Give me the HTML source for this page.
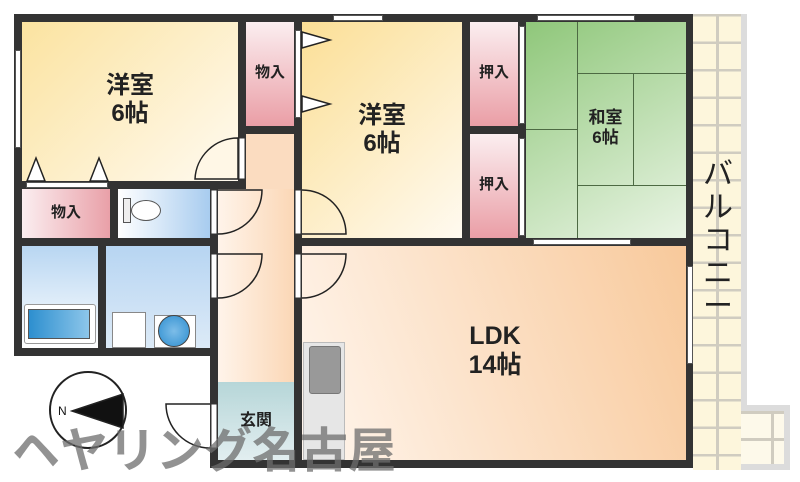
<!DOCTYPE html>
<html><head><meta charset="utf-8"><style>
body{margin:0;width:800px;height:478px;background:#fff;position:relative;overflow:hidden;font-family:"Liberation Sans","Noto Sans CJK JP",sans-serif;}
div{position:absolute;box-sizing:border-box;}
.w{background:#333;}
.t{color:#222;font-weight:bold;text-align:center;line-height:1.15;}
.pink{background:linear-gradient(180deg,#fbeef0,#ea9ea6);}
.win{background:#fff;border:1px solid #555;}
</style></head><body>
<div style="left:693px;top:14px;width:54px;height:456px;background-color:#fdf6dc;background-image:linear-gradient(90deg,transparent 23px,#d0ccc0 23px,#d0ccc0 26px,transparent 26px),linear-gradient(0deg,transparent 25px,#d0ccc0 25px,#d0ccc0 27.5px);background-size:54px 27.5px;border-right:6px solid #dcdcdc"></div>
<div style="left:741px;top:405px;width:49px;height:65px;background:#fdf9ea;border:6px solid #dcdcdc;border-left:none"></div>
<div style="left:741px;top:411px;width:43px;height:53px;background-image:linear-gradient(90deg,transparent 30px,#d0ccc0 30px,#d0ccc0 33px,transparent 33px),linear-gradient(0deg,transparent 24px,#d0ccc0 24px,#d0ccc0 27px,transparent 27px);background-size:43px 27px"></div>
<div class="t" style="left:698px;top:158px;width:40px;font-size:30px;line-height:33px;font-weight:normal">バ<br>ル<br>コ<br>ニ<br>ー</div>
<div style="left:22px;top:22px;width:216px;height:159px;background:linear-gradient(135deg,#fbe3a0,#fffaf0)"></div>
<div class="t" style="left:22px;top:72px;width:216px;font-size:24px">洋室<br>6帖</div>
<div class="pink" style="left:246px;top:22px;width:48px;height:104px"></div>
<div class="t" style="left:246px;top:64px;width:48px;font-size:15px">物入</div>
<div style="left:302px;top:22px;width:160px;height:216px;background:linear-gradient(135deg,#fbdf96,#fffaf0)"></div>
<div class="t" style="left:302px;top:102px;width:160px;font-size:24px">洋室<br>6帖</div>
<div class="pink" style="left:470px;top:22px;width:48px;height:104px"></div>
<div class="pink" style="left:470px;top:134px;width:48px;height:104px"></div>
<div class="t" style="left:470px;top:64px;width:48px;font-size:15px">押入</div>
<div class="t" style="left:470px;top:176px;width:48px;font-size:15px">押入</div>
<div style="left:526px;top:22px;width:160px;height:216px;background:linear-gradient(150deg,#8fc77a,#e9f4e4);"></div>
<div style="left:526px;top:22px;width:52px;height:108px;border:1.5px solid #4d6a43;border-top:none;border-left:none"></div>
<div style="left:526px;top:129px;width:52px;height:109px;border-right:1.5px solid #4d6a43"></div>
<div style="left:577px;top:73px;width:109px;height:113px;border-top:1.5px solid #4d6a43;border-bottom:1.5px solid #4d6a43"></div>
<div style="left:577px;top:73px;width:57px;height:113px;border-right:1.5px solid #4d6a43"></div>
<div class="t" style="left:577px;top:108px;width:57px;font-size:17px">和室<br>6帖</div>
<div class="pink" style="left:22px;top:189px;width:88px;height:49px;background:linear-gradient(90deg,#fbeef0,#e9a0a8)"></div>
<div class="t" style="left:22px;top:204px;width:88px;font-size:15px">物入</div>
<div style="left:118px;top:189px;width:92px;height:49px;background:linear-gradient(90deg,#fff,#a8ccef)"></div>
<div style="left:123px;top:198px;width:8px;height:25px;border:1.5px solid #555;background:#eee"></div>
<div style="left:131px;top:200px;width:30px;height:21px;border:1.5px solid #555;border-radius:50%;background:#fff"></div>
<div style="left:22px;top:246px;width:76px;height:102px;background:linear-gradient(180deg,#b8d6f2,#fff)"></div>
<div style="left:24px;top:304px;width:72px;height:40px;border:1.5px solid #999;background:#fff;border-radius:3px"></div>
<div style="left:28px;top:309px;width:62px;height:30px;background:linear-gradient(90deg,#2d8fcf,#8dc6ea);border:1px solid #555"></div>
<div style="left:106px;top:246px;width:104px;height:102px;background:linear-gradient(180deg,#b7d5f2,#dceaf7)"></div>
<div style="left:112px;top:312px;width:34px;height:36px;border:1.5px solid #888;background:#fff"></div>
<div style="left:154px;top:315px;width:42px;height:33px;border:1.5px solid #888;background:#fff"></div>
<div style="left:158px;top:315px;width:32px;height:32px;border:1.5px solid #444;border-radius:50%;background:radial-gradient(#7dbde8,#2e8ed0)"></div>
<div style="left:246px;top:134px;width:48px;height:55px;background:#fbdcc0"></div>
<div style="left:218px;top:189px;width:76px;height:193px;background:linear-gradient(90deg,#fff4ea,#fbd7b6)"></div>
<div style="left:218px;top:382px;width:76px;height:78px;background:linear-gradient(180deg,#b6d6d8,#e2eef0)"></div>
<div class="t" style="left:218px;top:412px;width:76px;font-size:16px">玄関</div>
<div style="left:302px;top:246px;width:384px;height:214px;background:linear-gradient(70deg,#fff6ee,#f8c99b)"></div>
<div style="left:303px;top:342px;width:42px;height:118px;background:#e6e6e6;border:1px solid #bbb"></div>
<div style="left:309px;top:346px;width:32px;height:48px;background:#999;border:1.5px solid #777;border-radius:3px"></div>
<div class="t" style="left:420px;top:322px;width:150px;font-size:25px">LDK<br>14帖</div>
<div class="w" style="left:14px;top:14px;width:679px;height:8px"></div>
<div class="w" style="left:14px;top:14px;width:8px;height:342px"></div>
<div class="w" style="left:686px;top:14px;width:7px;height:454px"></div>
<div class="w" style="left:210px;top:460px;width:483px;height:8px"></div>
<div class="w" style="left:238px;top:14px;width:8px;height:175px"></div>
<div class="w" style="left:22px;top:181px;width:224px;height:8px"></div>
<div class="w" style="left:246px;top:126px;width:56px;height:8px"></div>
<div class="w" style="left:294px;top:14px;width:8px;height:446px"></div>
<div class="w" style="left:462px;top:14px;width:8px;height:232px"></div>
<div class="w" style="left:518px;top:14px;width:8px;height:232px"></div>
<div class="w" style="left:470px;top:126px;width:56px;height:8px"></div>
<div class="w" style="left:14px;top:238px;width:204px;height:8px"></div>
<div class="w" style="left:294px;top:238px;width:399px;height:8px"></div>
<div class="w" style="left:110px;top:181px;width:8px;height:65px"></div>
<div class="w" style="left:210px;top:181px;width:8px;height:287px"></div>
<div class="w" style="left:98px;top:238px;width:8px;height:118px"></div>
<div class="w" style="left:14px;top:348px;width:204px;height:8px"></div>
<div class="win" style="left:15px;top:50px;width:6px;height:98px"></div>
<div class="win" style="left:333px;top:15px;width:50px;height:6px"></div>
<div class="win" style="left:537px;top:15px;width:98px;height:6px"></div>
<div class="win" style="left:533px;top:239px;width:98px;height:6px"></div>
<div class="win" style="left:687px;top:266px;width:6px;height:98px"></div>
<div class="win" style="left:519px;top:26px;width:6px;height:98px"></div>
<div class="win" style="left:519px;top:138px;width:6px;height:98px"></div>
<div class="win" style="left:295px;top:30px;width:6px;height:88px"></div>
<div class="win" style="left:26px;top:182px;width:82px;height:6px"></div>
<svg style="position:absolute;left:0;top:0" width="800" height="478">
<g fill="#fff" stroke="#222" stroke-width="1.5">
<path d="M302 32 L330 40 L302 48Z"/><path d="M302 96 L330 104 L302 112Z"/>
<path d="M27 181 L36 158 L45 181Z"/><path d="M90 181 L99 158 L108 181Z"/>
<path d="M238 138 L238 179 L195 179 A43 43 0 0 1 238 138Z" fill="#fff7e6"/>
<path d="M218 190 L262 190 A44 44 0 0 1 218 234" fill="none"/>
<path d="M302 190 A44 44 0 0 1 346 234 L302 234" fill="none"/>
<path d="M218 254 L262 254 A44 44 0 0 1 218 298" fill="none"/>
<path d="M302 254 L346 254 A44 44 0 0 1 302 298" fill="none"/>
<path d="M210 404 L166 404 A44 44 0 0 0 210 448" fill="none"/>
<circle cx="88" cy="410" r="38" fill="none" stroke-width="2"/>
<path d="M72 411 L123 394 L123 428Z" fill="#111"/>
</g>
<g fill="#fff" stroke="#333"><rect x="211" y="190" width="6" height="44"/><rect x="211" y="254" width="6" height="44"/><rect x="295" y="190" width="6" height="44"/><rect x="295" y="254" width="6" height="44"/><rect x="239" y="138" width="6" height="41"/><rect x="211" y="404" width="6" height="44"/></g>
<text x="58" y="415" font-size="12" font-family="Liberation Sans" fill="#111">N</text>
</svg>
<div style="left:12px;top:422px;font-size:48px;line-height:60px;font-weight:bold;color:rgba(110,110,110,0.75);letter-spacing:0;white-space:nowrap">ヘヤリング名古屋</div>
</body></html>
